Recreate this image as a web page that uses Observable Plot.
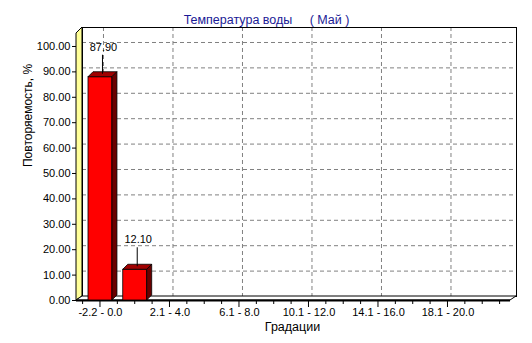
<!DOCTYPE html>
<html>
<head>
<meta charset="utf-8">
<script src="https://cdn.jsdelivr.net/npm/d3@7"></script>
<script src="https://cdn.jsdelivr.net/npm/@observablehq/plot@0.6"></script>
<style>
  html, body { margin: 0; padding: 0; background: #fff; }
  svg { display: block; }
</style>
</head>
<body>
<div id="chart"></div>
<script>
// ---- data ----
const categories = ["-2.2 - 0.0", "0.1 - 2.0", "2.1 - 4.0", "4.1 - 6.0", "6.1 - 8.0", "8.1 - 10.0",
  "10.1 - 12.0", "12.1 - 14.0", "14.1 - 16.0", "16.1 - 18.0", "18.1 - 20.0", "20.1 - 22.0"];
const values = [87.9, 12.1, 0, 0, 0, 0, 0, 0, 0, 0, 0, 0];
const yTicks = [0, 10, 20, 30, 40, 50, 60, 70, 80, 90, 100];
const xLabelled = categories.filter((c, i) => i % 2 === 0);
const title = "Температура воды     ( Май )";
const yTitle = "Повторяемость, %";
const xTitle = "Градации";

const rows = categories.map((c, i) => ({cat: c, value: values[i]}));
const barRows = rows.filter(d => d.value > 0);

// depth offsets (front plane relative to back wall)
const WDX = -6, WDY = 4;     // wall / y-axis
const BDX = -3, BDY = 4;     // bars front face
const D = 5;                 // bar depth
const INSET = 5.4;
const font = "'Liberation Sans', Arial, sans-serif";

function decor(index, scales, values, dims) {
  const g = d3.create("svg:g");
  const xl = dims.marginLeft, xr = dims.width - dims.marginRight;
  const y0 = scales.y(0), yt = dims.marginTop;
  // yellow side wall
  g.append("path")
    .attr("d", `M${xl + WDX},${y0 + WDY}L${xl + WDX},${yt + 6}L${xl},${yt}L${xl},${y0}Z`)
    .attr("fill", "#ffff99").attr("stroke", "#000").attr("stroke-width", 1);
  // floor
  g.append("path")
    .attr("d", `M${xl + WDX},${y0 + WDY}L${xl},${y0}L${xr},${y0}L${xr + WDX},${y0 + WDY}Z`)
    .attr("fill", "#fff").attr("stroke", "#000").attr("stroke-width", 1);
  g.append("line")
    .attr("x1", xl + WDX).attr("x2", xr + WDX).attr("y1", y0 + WDY + 0.5).attr("y2", y0 + WDY + 0.5)
    .attr("stroke", "#000").attr("stroke-width", 2);
  // x tick marks (every half band, long at labelled centres)
  const bw = scales.x.bandwidth();
  categories.forEach((c, i) => {
    const xs = scales.x(c) + BDX;
    const marks = [[xs, 3], [xs + bw / 2, i % 2 === 0 ? 6 : 3]];
    if (i === categories.length - 1) marks.push([xs + bw, 3]);
    for (const [x, len] of marks) {
      g.append("line").attr("x1", x).attr("x2", x)
        .attr("y1", y0 + WDY + 1).attr("y2", y0 + WDY + 1 + len)
        .attr("stroke", "#000").attr("stroke-width", 1);
    }
  });
  return g.node();
}

function bars3d(index, scales, values, dims, ctx, next) {
  const inner = next(index, scales, values, dims, ctx);
  const wrap = d3.create("svg:g");
  wrap.node().append(inner);
  const bw = scales.x.bandwidth();
  for (const i of index) {
    const d = barRows[i];
    const x0 = scales.x(d.cat) + INSET + BDX, x1 = scales.x(d.cat) + bw - INSET + BDX;
    const yt = scales.y(d.value) + BDY, yb = scales.y(0) + BDY;
    wrap.append("path")
      .attr("d", `M${x0},${yt}L${x0 + D},${yt - D}L${x1 + D},${yt - D}L${x1},${yt}Z`)
      .attr("fill", "#a00000").attr("stroke", "#000").attr("stroke-width", 0.8);
    wrap.append("path")
      .attr("d", `M${x1},${yt}L${x1 + D},${yt - D}L${x1 + D},${yb - D}L${x1},${yb}Z`)
      .attr("fill", "#6a0000").attr("stroke", "#000").attr("stroke-width", 0.8);
    const xm = (x0 + x1) / 2 + 2.5;
    wrap.append("line").attr("x1", xm).attr("x2", xm)
      .attr("y1", yt - D + 2).attr("y2", yt - 22)
      .attr("stroke", "#000").attr("stroke-width", 1);
  }
  return wrap.node();
}

const chart = Plot.plot({
  width: 532,
  height: 343,
  marginLeft: 82,
  marginRight: 16,
  marginTop: 27,
  marginBottom: 47,
  style: {fontFamily: font, fontSize: "11px", background: "#fff", color: "#000"},
  x: {type: "band", domain: categories, range: [85.6, 502.6], padding: 0, round: false},
  y: {domain: [0, 105.9]},
  marks: [
    Plot.gridY(yTicks.slice(1), {stroke: "#808080", strokeOpacity: 1, strokeDasharray: "4,3"}),
    Plot.gridX(xLabelled, {stroke: "#808080", strokeOpacity: 1, strokeDasharray: "4,3"}),
    Plot.frame({stroke: "#000", strokeWidth: 1}),
    Plot.ruleY([0], {stroke: "none", render: decor}),
    Plot.barY(barRows, {x: "cat", y: "value", fill: "#ff0000", stroke: "#000", strokeWidth: 0.8,
      insetLeft: INSET, insetRight: INSET, dx: BDX, dy: BDY, render: bars3d}),
    Plot.text(barRows, {x: "cat", y: "value", text: d => d.value.toFixed(2), dy: -26, dx: 0,
      fontSize: 11, fill: "#000"}),
    Plot.axisY({ticks: yTicks, tickFormat: d => d.toFixed(2), tickSize: 4, tickPadding: 2,
      dx: WDX, dy: WDY, label: null, fontSize: 11}),
    Plot.axisX({ticks: xLabelled, tickSize: 0, tickPadding: 8, dx: BDX, dy: WDY,
      label: null, fontSize: 11}),
    Plot.text([yTitle], {frameAnchor: "left", dx: -54, dy: 5, rotate: -90, fontSize: 12, fill: "#000"}),
    Plot.text([xTitle], {frameAnchor: "bottom", dx: -7, dy: 34, fontSize: 12.5, fill: "#000"}),
    Plot.text([title], {frameAnchor: "top", dx: -33, dy: -12, fontSize: 12.5, fill: "#1a1a96"})
  ]
});
document.getElementById("chart").append(chart);
</script>
</body>
</html>
